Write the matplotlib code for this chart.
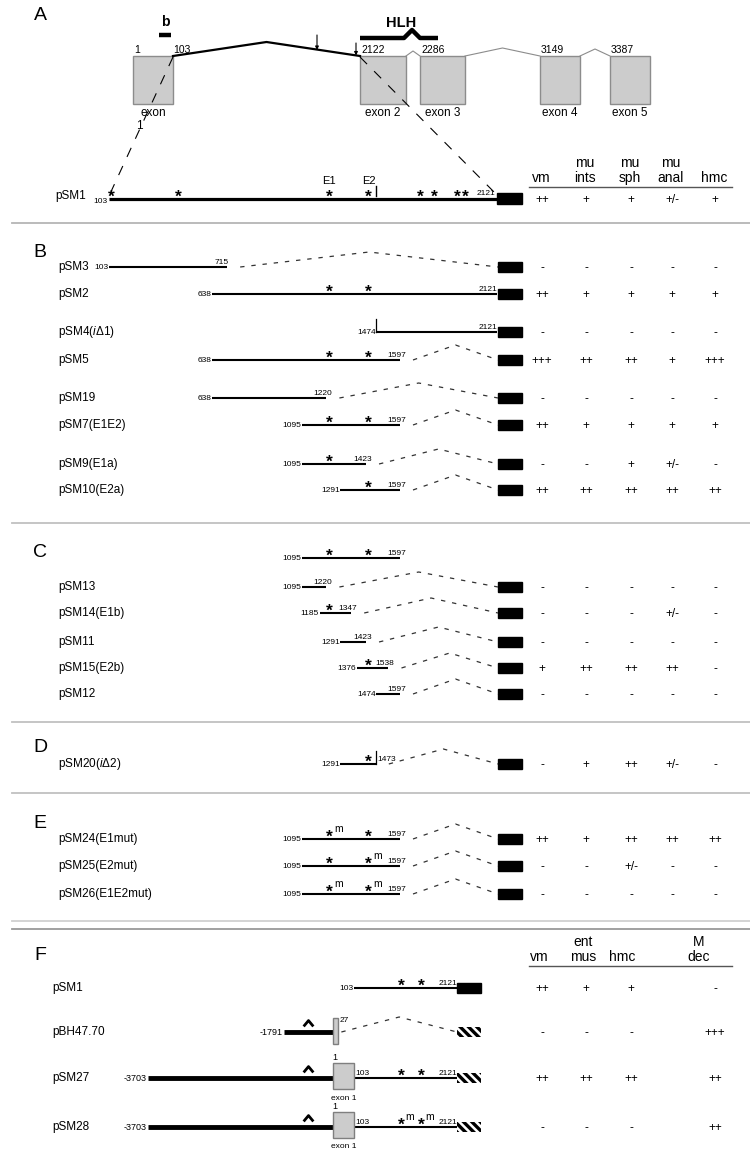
import numpy as np
import matplotlib
matplotlib.use('Agg')
import matplotlib.pyplot as plt
from matplotlib.patches import Rectangle
from matplotlib.path import Path

plt.rcParams['font.family'] = ['Liberation Sans', 'DejaVu Sans']
plt.rcParams['mathtext.fontset'] = 'custom'
plt.rcParams['mathtext.rm'] = 'Liberation Sans'
plt.rcParams['mathtext.it'] = 'Liberation Sans:italic'
plt.rcParams['hatch.linewidth'] = 2.4

# ------------------------------------------------------------------ data
E1, E2 = 1235, 1437                      # E-box positions (bp)

# A: gene model
exon_labels = ['exon', 'exon 2', 'exon 3', 'exon 4', 'exon 5']
exon_start_labels = ['1', '2122', '2286', '3149', '3387']
exon1_end_label = '103'
ebox_pSM1 = [113, 461, E1, E2, 1705, 1781, 1905, 1948]
tissues_A = ['vm', 'mu\nints', 'mu\nsph', 'mu\nanal', 'hmc']
expr_pSM1 = ['++', '+', '+', '+/-', '+']

# B
names_B = ['pSM3', 'pSM2', r'pSM4($\mathit{i\Delta}$1)', 'pSM5', 'pSM19',
           'pSM7(E1E2)', 'pSM9(E1a)', 'pSM10(E2a)']
starts_B = [103, 638, 1474, 638, 638, 1095, 1095, 1291]
ends_B = [715, 2121, 2121, 1597, 1220, 1597, 1423, 1597]
stars_B = [[], [E1, E2], [], [E1, E2], [], [E1, E2], [E1], [E2]]
ticks_B = [None, None, 1474, None, None, None, None, None]
expr_B = [['-', '-', '-', '-', '-'],
          ['++', '+', '+', '+', '+'],
          ['-', '-', '-', '-', '-'],
          ['+++', '++', '++', '+', '+++'],
          ['-', '-', '-', '-', '-'],
          ['++', '+', '+', '+', '+'],
          ['-', '-', '+', '+/-', '-'],
          ['++', '++', '++', '++', '++']]

# C
region_C = (1095, 1597)
names_C = ['pSM13', 'pSM14(E1b)', 'pSM11', 'pSM15(E2b)', 'pSM12']
starts_C = [1095, 1185, 1291, 1376, 1474]
ends_C = [1220, 1347, 1423, 1538, 1597]
stars_C = [[], [E1], [], [E2], []]
expr_C = [['-', '-', '-', '-', '-'],
          ['-', '-', '-', '+/-', '-'],
          ['-', '-', '-', '-', '-'],
          ['+', '++', '++', '++', '-'],
          ['-', '-', '-', '-', '-']]

# D
names_D = [r'pSM20($\mathit{i\Delta}$2)']
starts_D = [1291]
ends_D = [1473]
stars_D = [[E2]]
ticks_D = [1473]
expr_D = [['-', '+', '++', '+/-', '-']]

# E
names_E = ['pSM24(E1mut)', 'pSM25(E2mut)', 'pSM26(E1E2mut)']
starts_E = [1095, 1095, 1095]
ends_E = [1597, 1597, 1597]
stars_E = [[E1, E2], [E1, E2], [E1, E2]]
muts_E = [[E1], [E2], [E1, E2]]
expr_E = [['++', '+', '++', '++', '++'],
          ['-', '-', '+/-', '-', '-'],
          ['-', '-', '-', '-', '-']]

# F
tissues_F = ['vm', 'ent\nmus', 'hmc', 'M\ndec']
names_F = ['pSM1', 'pBH47.70', 'pSM27', 'pSM28']
upstream_F = [None, -1791, -3703, -3703]
exon1_F = [None, 27, 103, 103]
coding_F = [(103, 2121), None, (103, 2121), (103, 2121)]
muts_F = [[], [], [], [E1, E2]]
caret_bp = -913
expr_F = [['++', '+', '+', '-'],
          ['-', '-', '-', '+++'],
          ['++', '++', '++', '++'],
          ['-', '-', '-', '++']]

# ------------------------------------------------------------------ layout
main_bp = [103, 638, 1095, 1597, 2121]
main_px = [109, 212, 302, 400, 497]
F_bp = [-3703, -1791, 1, 103, E1, E2, 2121]
F_px = [148, 284, 333, 354, 401, 421, 457]
gene_slots = [(133, 40), (360, 46), (420, 45), (540, 40), (610, 40)]
cols_AE = [542, 586, 631, 672, 715]
cols_F = [542, 586, 631, 715]
headF_x = [539, 583, 622, 699]
rows_B = [267, 294, 332, 360, 398, 425, 464, 490]
row_Chead = 558
rows_C = [587, 613, 642, 668, 694]
rows_D = [764]
rows_E = [839, 866, 894]
rows_F = [988, 1032, 1078, 1127]
BOX_X, BOX_W = 498, 24
LABEL_X = 58

def sx(bp):
    return float(np.interp(bp, main_bp, main_px))

def fx(bp):
    return float(np.interp(bp, F_bp, F_px))

fig = plt.figure(figsize=(7.5, 11.51), dpi=100)
ax = fig.add_axes([0, 0, 1, 1])
ax.set_xlim(0, 750)
ax.set_ylim(1151, 0)
ax.axis('off')

DASH = (0, (3.5, 5.5))
VAL_FS = 8.5

def star(x, y, mut=False):
    ax.text(x, y + 3, '*', ha='center', va='baseline', fontsize=12.5,
            fontweight='bold')
    if mut:
        ax.text(x + 4.5, y - 10, 'm', ha='left', va='center', fontsize=7.5)

def splice(x0, y, x1):
    xm = (x0 + x1) / 2
    ax.plot([x0, xm, x1], [y, y - 15, y], color='#333333', lw=0.9,
            linestyle=DASH)

def values(y, vals, cols):
    for v, c in zip(vals, cols):
        ax.text(c, y + 1, v, ha='center', va='center', fontsize=VAL_FS)

def construct(y, name, start, end, stars, vals, tick=None, muts=(),
              show_box=True, lw=1.5):
    if name:
        ax.text(LABEL_X, y, name, ha='left', va='center', fontsize=8.5)
    xs, xe = sx(start), sx(end)
    ax.text(xs - 0.5, y + 0.5, str(start), ha='right', va='center', fontsize=6)
    ax.plot([xs, xe], [y, y], color='black', lw=lw, solid_capstyle='butt')
    if end == 2121:
        ax.text(xe, y - 1, str(end), ha='right', va='bottom', fontsize=6)
    elif tick is not None and tick == end:
        ax.text(xe + 2, y - 1, str(end), ha='left', va='bottom', fontsize=6)
    else:
        ax.text(xe - 13, y - 1, str(end), ha='left', va='bottom', fontsize=6)
    for s in stars:
        star(sx(s), y, s in muts)
    if tick is not None:
        ax.plot([sx(tick)] * 2, [y - 13, y], color='black', lw=0.9)
    if show_box:
        if end != 2121:
            splice(xe + 13, y, BOX_X)
        ax.add_patch(Rectangle((BOX_X, y - 5), BOX_W, 10, color='black'))
        values(y, vals, cols_AE)

# ------------------------------------------------------------------ separators
for ysep, col in [(223, '#b5b5b5'), (523, '#c0c0c0'), (722, '#c0c0c0'),
                  (793, '#c0c0c0'), (921, '#d0d0d0'), (929, '#999999')]:
    ax.plot([12, 750], [ysep, ysep], color=col, lw=1.3)

for letter, ly in zip('ABCDEF', [15, 252, 552, 747, 823, 955]):
    ax.text(40, ly, letter, ha='center', va='center', fontsize=14)

# ------------------------------------------------------------------ A: gene model
top, bot = 56, 104
for (x0, w), lab, st in zip(gene_slots, exon_labels, exon_start_labels):
    ax.add_patch(Rectangle((x0, top), w, bot - top, facecolor='#cccccc',
                           edgecolor='#8c8c8c', lw=1))
    ax.text(x0 + w / 2, 113, lab, ha='center', va='center', fontsize=8.5)
    ax.text(x0 + 1, top - 1, st, ha='left', va='bottom', fontsize=7.5)
ax.text(gene_slots[0][0] + 6, 126, '1', ha='center', va='center', fontsize=8.5)
e1_right = gene_slots[0][0] + gene_slots[0][1]
ax.text(e1_right, top - 1, exon1_end_label, ha='left', va='bottom', fontsize=7.5)

# intron 1 (bold) and other introns (thin grey)
e2_left = gene_slots[1][0]
ax.plot([e1_right, (e1_right + e2_left) / 2, e2_left], [top, 42, top],
        color='black', lw=1.6)
for (xa, wa), (xb, wb), pk in zip(gene_slots[1:-1], gene_slots[2:], [5, 8, 7]):
    r = xa + wa
    ax.plot([r, (r + xb) / 2, xb], [top, top - pk, top], color='#8c8c8c', lw=0.8)

# arrows on intron 1
for xa_, y0, y1 in [(317, 35, 50), (356, 43, 55.5)]:
    ax.annotate('', xy=(xa_, y1), xytext=(xa_, y0),
                arrowprops=dict(arrowstyle='-|>', lw=0.8, color='black',
                                mutation_scale=5, shrinkA=0, shrinkB=0))

# b and HLH domains
ax.plot([159, 171], [35, 35], color='black', lw=3.2, solid_capstyle='butt')
ax.text(165, 22, 'b', ha='center', va='center', fontsize=10, fontweight='bold')
ax.plot([360, 404, 412, 420, 438], [38, 38, 30, 38, 38], color='black', lw=3.2,
        solid_capstyle='butt')
ax.text(401, 23, 'HLH', ha='center', va='center', fontsize=10.5,
        fontweight='bold')

# zoom lines from gene model to pSM1
ax.plot([e1_right, sx(103)], [top + 1, 196], color='black', lw=0.8,
        linestyle=(0, (9, 9)))
ax.plot([e2_left, sx(2121)], [top + 1, 195], color='black', lw=0.8,
        linestyle=(0, (9, 9)))

# pSM1 row
yA = 199
ax.text(55, yA - 3, 'pSM1', ha='left', va='center', fontsize=8.5)
ax.text(93, yA + 2, '103', ha='left', va='center', fontsize=6)
ax.plot([sx(103), sx(2121)], [yA, yA], color='black', lw=2.3,
        solid_capstyle='butt')
for s in ebox_pSM1:
    star(sx(s), yA)
ax.text(sx(E1), 181, 'E1', ha='center', va='center', fontsize=8)
ax.text(sx(E2), 181, 'E2', ha='center', va='center', fontsize=8)
ax.plot([sx(1474)] * 2, [186, 196], color='black', lw=1)
ax.text(sx(2121) - 2, yA - 2, '2121', ha='right', va='bottom', fontsize=6)
ax.add_patch(Rectangle((BOX_X - 1, yA - 6), BOX_W + 1, 11, color='black'))
values(yA, expr_pSM1, cols_AE)

# table header A
for c, t in zip(cols_AE, tissues_A):
    ax.text(c - 1, 185, t, ha='center', va='bottom', fontsize=10,
            linespacing=1.05)
ax.plot([529, 732], [187, 187], color='#555555', lw=1)

# ------------------------------------------------------------------ B
for y, n, s, e, st, tk, v in zip(rows_B, names_B, starts_B, ends_B, stars_B,
                                 ticks_B, expr_B):
    construct(y, n, s, e, st, v, tick=tk)

# ------------------------------------------------------------------ C
construct(row_Chead, None, region_C[0], region_C[1], [E1, E2], None,
          show_box=False)
for y, n, s, e, st, v in zip(rows_C, names_C, starts_C, ends_C, stars_C, expr_C):
    construct(y, n, s, e, st, v)

# ------------------------------------------------------------------ D
for y, n, s, e, st, tk, v in zip(rows_D, names_D, starts_D, ends_D, stars_D,
                                 ticks_D, expr_D):
    construct(y, n, s, e, st, v, tick=tk)

# ------------------------------------------------------------------ E
for y, n, s, e, st, m, v in zip(rows_E, names_E, starts_E, ends_E, stars_E,
                                muts_E, expr_E):
    construct(y, n, s, e, st, v, muts=m)

# ------------------------------------------------------------------ F
for c, t in zip(headF_x, tissues_F):
    ax.text(c, 964, t, ha='center', va='bottom', fontsize=10, linespacing=1.05)
ax.plot([529, 732], [966, 966], color='#555555', lw=1)

caret = Path([(-1, -0.6), (0, 0.6), (1, -0.6)],
             [Path.MOVETO, Path.LINETO, Path.LINETO])

for y, n, up, ex1, cod, m, v in zip(rows_F, names_F, upstream_F, exon1_F,
                                    coding_F, muts_F, expr_F):
    ax.text(52, y, n, ha='left', va='center', fontsize=8.5)
    if up is not None:
        ax.text(fx(up) - 1, y + 0.5, str(up), ha='right', va='center',
                fontsize=6.5)
        ax.plot([fx(up), fx(1)], [y, y], color='black', lw=3.5,
                solid_capstyle='butt')
        ax.plot([fx(caret_bp)], [y - 9], marker=caret, markersize=7,
                mfc='none', mec='black', mew=2.0, color='black')
    if ex1 is not None:
        x0, x1 = fx(1), fx(ex1)
        if ex1 == 103:
            ax.add_patch(Rectangle((x0, y - 15), x1 - x0, 26, facecolor='#cccccc',
                                   edgecolor='#7f7f7f', lw=1, zorder=3))
            ax.text(x0 + 2, y - 16, '1', ha='center', va='bottom', fontsize=6.5)
            ax.text((x0 + x1) / 2, y + 20, 'exon 1', ha='center', va='center',
                    fontsize=6)
        else:
            ax.add_patch(Rectangle((x0, y - 14), x1 - x0, 26, facecolor='#cccccc',
                                   edgecolor='#7f7f7f', lw=1, zorder=3))
            ax.text(x1 + 1, y - 12, str(ex1), ha='left', va='center',
                    fontsize=6)
    if cod is not None:
        cs, ce = cod
        if up is None:
            ax.text(fx(cs) - 1, y + 0.5, str(cs), ha='right', va='center',
                    fontsize=6)
        else:
            ax.text(fx(cs) + 1, y - 1, str(cs), ha='left', va='bottom',
                    fontsize=6)
        ax.plot([fx(cs), fx(ce)], [y, y], color='black', lw=1.5,
                solid_capstyle='butt')
        ax.text(fx(ce), y - 1, str(ce), ha='right', va='bottom', fontsize=6)
        for s in (E1, E2):
            star(fx(s), y, s in m)
    else:
        splice(fx(ex1) + 3, y, fx(2121))
    if up is None:
        ax.add_patch(Rectangle((fx(2121), y - 5), 24, 10, color='black'))
    else:
        ax.add_patch(Rectangle((fx(2121), y - 5), 24, 10, facecolor='white',
                               edgecolor='black', hatch='\\\\\\\\', lw=0))
    values(y, v, cols_F)

fig.savefig('out.png', dpi=100)
